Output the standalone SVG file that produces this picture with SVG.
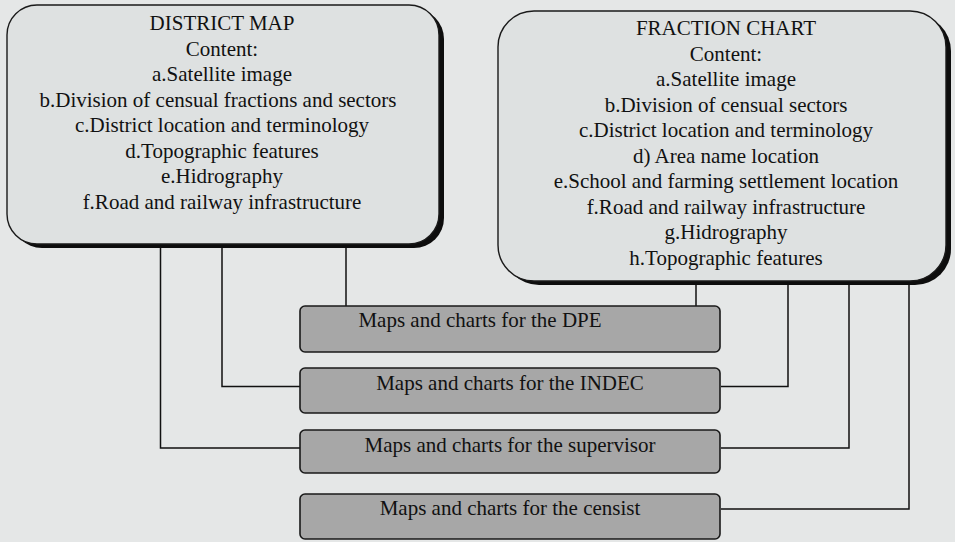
<svg xmlns="http://www.w3.org/2000/svg" width="955" height="542" viewBox="0 0 955 542">
<style>
.bg{fill:#e5e7e7}
.big{fill:#dee1e1;stroke:#1a1a1a;stroke-width:1.4}
.shadow{fill:#0d0d0d}
.small{fill:#a7a7a7;stroke:#1a1a1a;stroke-width:1.6}
.t{font-family:"Liberation Serif","Times New Roman",serif;font-size:21px;fill:#111;text-anchor:middle}
.c{fill:none;stroke:#111;stroke-width:1.5}
</style>
<rect class="bg" x="0" y="0" width="955" height="542"/>
<g id="district-map">
<rect class="shadow" x="12" y="9" width="432" height="239" rx="30"/>
<rect class="big" x="7" y="5" width="432" height="239" rx="30"/>
<text class="t" x="222" y="30">DISTRICT MAP</text>
<text class="t" x="222" y="55.5">Content:</text>
<text class="t" x="222" y="81">a.Satellite image</text>
<text class="t" x="218" y="106.5">b.Division of censual fractions and sectors</text>
<text class="t" x="222" y="132">c.District location and terminology</text>
<text class="t" x="222" y="157.5">d.Topographic features</text>
<text class="t" x="222" y="183">e.Hidrography</text>
<text class="t" x="222" y="208.5">f.Road and railway infrastructure</text>
</g>
<g id="fraction-chart">
<rect class="shadow" x="503" y="15" width="448" height="270" rx="36"/>
<rect class="big" x="498" y="11" width="448" height="270" rx="36"/>
<text class="t" x="726" y="35">FRACTION CHART</text>
<text class="t" x="726" y="60.5">Content:</text>
<text class="t" x="726" y="86">a.Satellite image</text>
<text class="t" x="726" y="111.5">b.Division of censual sectors</text>
<text class="t" x="726" y="137">c.District location and terminology</text>
<text class="t" x="726" y="162.5">d) Area name location</text>
<text class="t" x="726" y="188">e.School and farming settlement location</text>
<text class="t" x="726" y="213.5">f.Road and railway infrastructure</text>
<text class="t" x="726" y="239">g.Hidrography</text>
<text class="t" x="726" y="264.5">h.Topographic features</text>
</g>
<g id="connectors">
<path class="c" d="M346 248 V306"/>
<path class="c" d="M222 248 V386.5 H300"/>
<path class="c" d="M160.5 248 V448 H300"/>
<path class="c" d="M696 285 V306"/>
<path class="c" d="M721 386.5 H788 V285"/>
<path class="c" d="M721 448 H849 V285"/>
<path class="c" d="M721 509 H909 V285"/>
</g>
<g id="dpe">
<rect class="small" x="300" y="306" width="420" height="46" rx="5"/>
<text class="t" x="480" y="327">Maps and charts for the DPE</text>
</g>
<g id="indec">
<rect class="small" x="300" y="368" width="420" height="45" rx="5"/>
<text class="t" x="510" y="390">Maps and charts for the INDEC</text>
</g>
<g id="supervisor">
<rect class="small" x="300" y="430" width="420" height="43" rx="5"/>
<text class="t" x="510" y="452">Maps and charts for the supervisor</text>
</g>
<g id="censist">
<rect class="small" x="300" y="494" width="420" height="45" rx="5"/>
<text class="t" x="510" y="515">Maps and charts for the censist</text>
</g>
</svg>
